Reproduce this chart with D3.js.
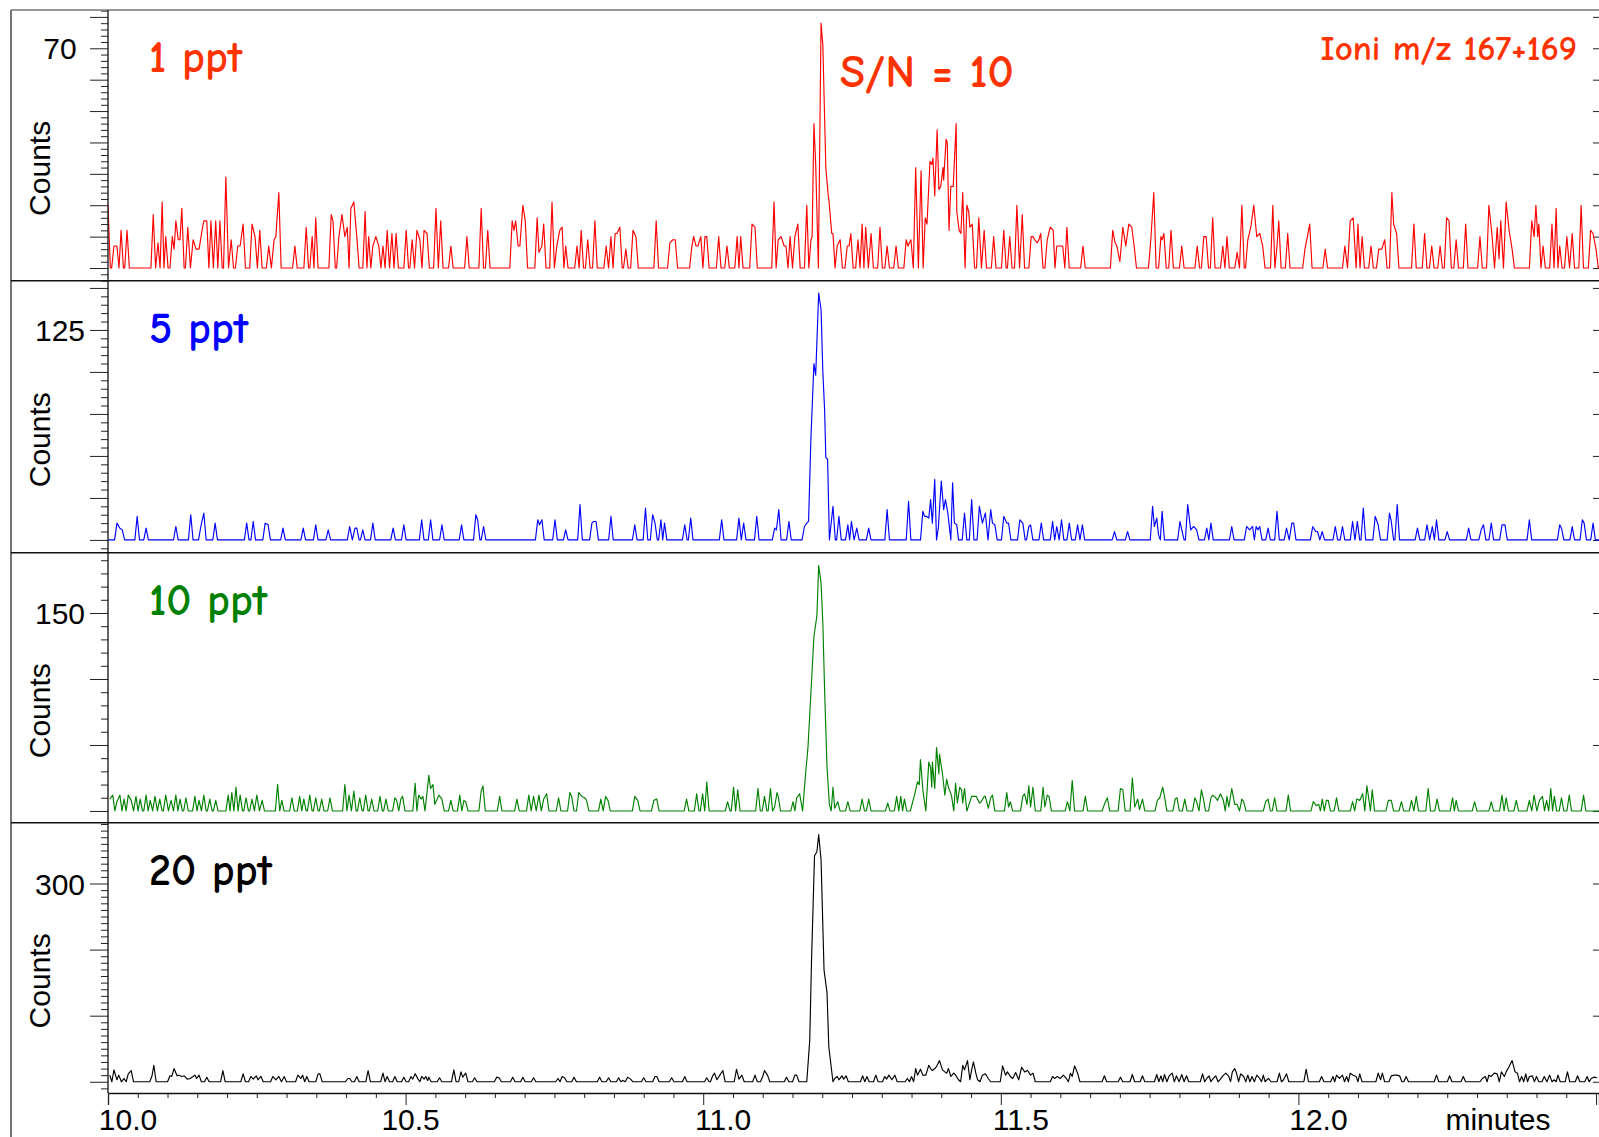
<!DOCTYPE html>
<html lang="en">
<head>
<meta charset="utf-8">
<title>Ioni m/z 167+169</title>
<script src="https://cdn.jsdelivr.net/npm/d3@7"></script>
<style>
html, body {
  margin: 0;
  padding: 0;
  background: #fff;
}
svg {
  display: block;
  font-family: "Liberation Sans", Arial, sans-serif;
}
.trace {
  fill: none;
  stroke-width: 1.15;
  stroke-linejoin: round;
}
.hand {
  font-family: "Comic Sans MS", "Comic Neue", Lato, sans-serif;
  font-weight: 600;
}
.tick line {
  stroke: #222;
}
</style>
</head>
<body>
<svg id="chart" width="1599" height="1137"></svg>
<script>

// retention time (minutes)
var timeRange = [10, 12.505];
var timeTicks = [10.0, 10.5, 11.0, 11.5, 12.0, 12.5];
var timeLabels = ["10.0", "10.5", "11.0", "11.5", "12.0"];
// one scan is about 0.0039 min; scans that are not listed read 0 counts
var scan = 0.0039;

var panelNames = ["1 ppt", "5 ppt", "10 ppt", "20 ppt"];
var countRange = [[-4.04, 82.2], [-7.6, 154.3], [-8.9, 195.7], [-17, 392]];
var majorStep = [10, 25, 50, 100];
var minorStep = [2, 5, 10, 10];
var labelledTick = [70, 125, 150, 300];

// [minutes, counts]
var ppt1 = [[10.000,20],[10.010,7],[10.015,7],[10.022,12],[10.032,12],[10.076,17],[10.084,8],[10.091,21],[10.097,10],[10.108,10],[10.111,6],[10.114,15],[10.118,9],[10.121,9],[10.124,19],[10.134,13],[10.143,9],[10.148,6],[10.153,6],[10.158,12],[10.161,15],[10.166,15],[10.173,15],[10.181,15],[10.188,15],[10.198,29],[10.207,9],[10.218,7],[10.222,7],[10.227,14],[10.242,14],[10.247,10],[10.255,12],[10.270,7],[10.279,9],[10.282,10],[10.287,24],[10.314,7],[10.333,13],[10.343,10],[10.349,16],[10.375,17],[10.378,15],[10.388,10],[10.393,17],[10.398,10],[10.402,13],[10.408,19],[10.413,21],[10.418,10],[10.432,18],[10.438,10],[10.445,7],[10.450,10],[10.455,7],[10.462,7],[10.469,12],[10.477,11],[10.484,11],[10.501,12],[10.511,9],[10.519,12],[10.524,9],[10.531,12],[10.536,11],[10.551,19],[10.559,15],[10.576,7],[10.603,10],[10.627,19],[10.638,12],[10.679,15],[10.682,12],[10.685,15],[10.689,7],[10.692,7],[10.697,20],[10.701,15],[10.721,16],[10.724,5],[10.729,7],[10.732,14],[10.746,21],[10.754,7],[10.759,12],[10.763,13],[10.769,7],[10.788,7],[10.795,12],[10.806,9],[10.818,15],[10.837,7],[10.845,10],[10.852,11],[10.855,11],[10.860,13],[10.870,6],[10.882,12],[10.887,10],[10.921,15],[10.944,8],[10.949,9],[10.953,9],[10.981,7],[10.984,10],[10.988,7],[10.991,7],[10.996,10],[11.003,10],[11.006,10],[11.026,10],[11.040,7],[11.057,10],[11.063,10],[11.082,14],[11.087,13],[11.119,21],[11.126,9],[11.131,10],[11.136,7],[11.139,7],[11.146,10],[11.154,10],[11.159,14],[11.174,20],[11.181,9],[11.183,10],[11.186,46],[11.189,33],[11.198,78],[11.201,71],[11.206,32],[11.210,23],[11.211,22],[11.216,11],[11.218,11],[11.225,7],[11.230,9],[11.242,7],[11.245,7],[11.248,11],[11.260,9],[11.267,14],[11.273,13],[11.282,11],[11.297,13],[11.309,7],[11.324,7],[11.341,9],[11.344,7],[11.349,9],[11.357,32],[11.366,31],[11.373,16],[11.376,14],[11.381,34],[11.384,33],[11.386,35],[11.389,23],[11.393,44],[11.396,25],[11.399,26],[11.403,32],[11.404,28],[11.408,41],[11.410,40],[11.413,12],[11.416,26],[11.420,26],[11.425,46],[11.426,18],[11.430,12],[11.433,11],[11.436,24],[11.440,0],[11.443,20],[11.446,18],[11.448,13],[11.452,14],[11.463,16],[11.472,12],[11.488,10],[11.505,12],[11.515,10],[11.527,20],[11.536,17],[11.551,10],[11.554,10],[11.557,9],[11.561,8],[11.564,9],[11.567,11],[11.578,9],[11.583,13],[11.588,12],[11.594,7],[11.599,7],[11.604,7],[11.611,13],[11.638,7],[11.688,12],[11.692,8],[11.695,7],[11.700,2],[11.705,13],[11.710,7],[11.715,14],[11.720,13],[11.724,7],[11.752,9],[11.757,24],[11.769,10],[11.771,9],[11.774,11],[11.786,12],[11.804,7],[11.830,7],[11.841,10],[11.845,10],[11.856,16],[11.873,7],[11.880,10],[11.897,5],[11.905,20],[11.915,9],[11.920,13],[11.925,20],[11.930,10],[11.935,11],[11.940,7],[11.957,20],[11.964,7],[11.967,15],[11.982,11],[12.011,6],[12.014,9],[12.019,14],[12.045,6],[12.078,7],[12.087,15],[12.092,16],[12.097,0],[12.100,14],[12.107,10],[12.122,7],[12.135,6],[12.140,6],[12.145,9],[12.157,24],[12.160,14],[12.165,11],[12.194,14],[12.212,11],[12.224,7],[12.238,7],[12.249,16],[12.253,15],[12.265,9],[12.281,14],[12.305,10],[12.320,20],[12.325,11],[12.334,13],[12.337,3],[12.340,15],[12.349,21],[12.354,12],[12.359,6],[12.392,15],[12.396,10],[12.399,20],[12.402,10],[12.404,14],[12.411,7],[12.426,14],[12.433,19],[12.439,7],[12.451,10],[12.460,11],[12.475,20],[12.491,12],[12.495,11],[12.500,6]];

var ppt5 = [[10.015,10],[10.020,7],[10.024,6],[10.049,14],[10.064,7],[10.114,8],[10.139,15],[10.156,8],[10.161,16],[10.180,10],[10.233,10],[10.244,11],[10.264,10],[10.269,9],[10.294,7],[10.328,7],[10.349,9],[10.370,6],[10.406,8],[10.415,7],[10.418,7],[10.428,6],[10.445,10],[10.479,7],[10.497,9],[10.527,12],[10.542,12],[10.561,9],[10.594,9],[10.618,15],[10.621,12],[10.631,8],[10.722,12],[10.725,9],[10.729,12],[10.751,12],[10.769,6],[10.793,21],[10.813,10],[10.816,11],[10.820,11],[10.845,14],[10.885,9],[10.903,19],[10.915,15],[10.919,10],[10.929,12],[10.935,10],[10.969,9],[10.979,13],[11.031,12],[11.060,13],[11.068,10],[11.090,14],[11.120,7],[11.123,6],[11.127,18],[11.144,11],[11.170,8],[11.174,10],[11.177,11],[11.181,61],[11.186,105],[11.189,98],[11.194,147],[11.198,137],[11.201,100],[11.204,77],[11.206,49],[11.209,48],[11.212,0],[11.218,20],[11.228,14],[11.243,9],[11.249,11],[11.258,7],[11.278,7],[11.309,18],[11.345,23],[11.369,17],[11.372,14],[11.375,14],[11.379,13],[11.382,24],[11.385,10],[11.389,36],[11.395,7],[11.400,35],[11.404,18],[11.407,24],[11.411,16],[11.416,0],[11.419,34],[11.422,10],[11.426,9],[11.429,0],[11.439,16],[11.451,24],[11.464,20],[11.469,10],[11.474,16],[11.483,18],[11.486,10],[11.490,9],[11.505,14],[11.510,10],[11.513,10],[11.532,12],[11.537,10],[11.547,8],[11.550,9],[11.568,10],[11.587,11],[11.594,8],[11.602,12],[11.615,10],[11.629,9],[11.637,9],[11.691,5],[11.713,5],[11.755,20],[11.758,8],[11.762,13],[11.765,3],[11.771,17],[11.801,11],[11.804,6],[11.814,21],[11.819,6],[11.824,8],[11.829,6],[11.846,7],[11.853,10],[11.888,8],[11.913,8],[11.918,6],[11.923,8],[11.929,8],[11.932,6],[11.935,8],[11.949,7],[11.964,17],[11.980,7],[11.989,10],[11.992,10],[12.024,8],[12.029,5],[12.032,5],[12.040,5],[12.062,8],[12.074,8],[12.091,11],[12.099,11],[12.109,19],[12.129,14],[12.134,9],[12.153,16],[12.156,11],[12.166,21],[12.200,7],[12.216,9],[12.225,8],[12.232,12],[12.250,5],[12.286,7],[12.307,6],[12.311,9],[12.324,10],[12.342,9],[12.347,9],[12.388,12],[12.439,9],[12.442,7],[12.460,8],[12.477,12],[12.480,10],[12.495,10]];

var ppt10 = [[10.003,9],[10.008,12],[10.015,7],[10.020,12],[10.027,9],[10.034,12],[10.039,8],[10.047,11],[10.054,9],[10.064,12],[10.071,8],[10.079,11],[10.087,9],[10.097,12],[10.106,8],[10.114,12],[10.121,9],[10.131,10],[10.146,11],[10.153,8],[10.161,12],[10.171,9],[10.181,8],[10.202,12],[10.208,14],[10.215,18],[10.222,12],[10.232,10],[10.242,9],[10.250,12],[10.259,8],[10.285,20],[10.292,8],[10.309,10],[10.322,11],[10.329,9],[10.339,12],[10.349,10],[10.359,9],[10.373,10],[10.398,20],[10.405,12],[10.413,15],[10.423,10],[10.433,12],[10.443,9],[10.457,11],[10.467,9],[10.482,10],[10.485,8],[10.492,9],[10.495,11],[10.516,21],[10.522,12],[10.526,9],[10.529,11],[10.536,14],[10.539,27],[10.542,17],[10.546,20],[10.549,5],[10.552,8],[10.556,12],[10.561,9],[10.576,8],[10.591,12],[10.598,8],[10.601,7],[10.627,15],[10.630,19],[10.658,11],[10.687,9],[10.707,12],[10.715,11],[10.724,12],[10.732,9],[10.737,13],[10.757,10],[10.776,14],[10.779,11],[10.791,14],[10.796,11],[10.801,10],[10.804,8],[10.828,9],[10.836,11],[10.840,8],[10.885,11],[10.890,8],[10.917,8],[10.922,9],[10.972,9],[10.989,13],[10.999,13],[11.006,22],[11.041,7],[11.051,18],[11.058,16],[11.092,17],[11.103,11],[11.113,17],[11.120,3],[11.124,14],[11.126,11],[11.151,7],[11.157,10],[11.162,13],[11.167,0],[11.172,28],[11.176,48],[11.181,90],[11.186,132],[11.191,148],[11.194,186],[11.198,173],[11.201,142],[11.204,91],[11.208,33],[11.212,5],[11.218,18],[11.221,2],[11.226,7],[11.243,7],[11.267,9],[11.278,9],[11.310,6],[11.325,11],[11.332,11],[11.338,9],[11.352,7],[11.355,12],[11.360,22],[11.363,20],[11.365,39],[11.369,16],[11.374,0],[11.379,37],[11.382,33],[11.384,18],[11.385,37],[11.389,17],[11.392,48],[11.396,28],[11.397,43],[11.402,28],[11.406,12],[11.409,24],[11.412,18],[11.417,12],[11.421,0],[11.424,21],[11.427,6],[11.431,18],[11.434,16],[11.436,6],[11.439,17],[11.443,0],[11.451,11],[11.456,11],[11.459,11],[11.464,6],[11.467,7],[11.472,11],[11.474,11],[11.479,2],[11.483,10],[11.486,12],[11.510,14],[11.513,3],[11.516,7],[11.537,11],[11.540,13],[11.544,5],[11.547,19],[11.550,3],[11.554,18],[11.571,18],[11.574,3],[11.578,12],[11.581,11],[11.612,7],[11.620,23],[11.642,11],[11.674,5],[11.679,10],[11.701,17],[11.705,16],[11.721,25],[11.725,3],[11.730,9],[11.733,1],[11.738,9],[11.763,8],[11.767,10],[11.772,18],[11.775,11],[11.793,9],[11.796,10],[11.809,9],[11.826,10],[11.829,7],[11.837,16],[11.840,10],[11.853,10],[11.856,12],[11.861,10],[11.864,8],[11.869,13],[11.874,8],[11.880,11],[11.883,3],[11.888,17],[11.893,5],[11.897,5],[11.905,9],[11.908,7],[11.945,7],[11.949,9],[11.960,10],[11.983,12],[12.025,7],[12.030,4],[12.034,5],[12.040,9],[12.047,8],[12.050,8],[12.064,10],[12.091,7],[12.098,9],[12.103,8],[12.108,13],[12.115,19],[12.118,10],[12.124,16],[12.151,8],[12.156,8],[12.173,7],[12.190,8],[12.198,11],[12.218,17],[12.233,9],[12.259,10],[12.265,8],[12.296,7],[12.324,7],[12.342,12],[12.349,10],[12.366,8],[12.388,8],[12.396,12],[12.405,8],[12.410,11],[12.417,8],[12.424,17],[12.430,11],[12.442,10],[12.455,12],[12.479,12]];

var ppt20 = [[10.003,10],[10.010,18],[10.015,3],[10.018,10],[10.027,5],[10.034,12],[10.039,17],[10.074,9],[10.077,25],[10.104,9],[10.107,8],[10.111,20],[10.116,9],[10.119,10],[10.124,8],[10.128,9],[10.133,4],[10.138,5],[10.143,8],[10.146,10],[10.149,5],[10.153,10],[10.166,7],[10.193,17],[10.227,12],[10.240,8],[10.244,4],[10.249,9],[10.252,3],[10.257,8],[10.277,8],[10.282,3],[10.287,8],[10.296,8],[10.319,10],[10.324,5],[10.327,10],[10.334,8],[10.353,12],[10.356,12],[10.403,5],[10.406,5],[10.418,8],[10.437,17],[10.462,13],[10.469,8],[10.482,8],[10.497,7],[10.509,8],[10.512,4],[10.516,12],[10.521,4],[10.527,8],[10.531,4],[10.534,8],[10.537,2],[10.539,7],[10.557,6],[10.581,18],[10.593,15],[10.596,7],[10.601,13],[10.616,6],[10.653,7],[10.657,6],[10.680,7],[10.697,7],[10.715,6],[10.756,5],[10.763,8],[10.767,6],[10.783,7],[10.826,7],[10.841,6],[10.858,6],[10.865,2],[10.873,7],[10.878,4],[10.900,6],[10.919,8],[10.922,8],[10.947,6],[10.969,8],[11.006,6],[11.016,9],[11.019,13],[11.023,3],[11.028,10],[11.033,17],[11.056,19],[11.060,4],[11.065,10],[11.087,10],[11.100,8],[11.103,17],[11.108,10],[11.140,7],[11.154,10],[11.157,10],[11.174,0],[11.179,63],[11.182,184],[11.187,342],[11.191,348],[11.194,374],[11.198,336],[11.203,169],[11.208,135],[11.211,53],[11.218,0],[11.221,5],[11.225,8],[11.228,3],[11.233,9],[11.236,4],[11.240,9],[11.268,9],[11.275,8],[11.290,10],[11.305,8],[11.308,4],[11.312,10],[11.317,3],[11.322,10],[11.343,5],[11.350,8],[11.357,20],[11.360,10],[11.365,19],[11.369,10],[11.374,10],[11.379,25],[11.382,20],[11.385,17],[11.389,20],[11.392,23],[11.397,32],[11.402,18],[11.406,15],[11.409,13],[11.412,20],[11.416,8],[11.421,13],[11.424,10],[11.429,3],[11.436,25],[11.439,18],[11.444,32],[11.448,3],[11.451,18],[11.454,30],[11.458,13],[11.461,3],[11.469,10],[11.474,12],[11.479,5],[11.503,24],[11.508,10],[11.511,15],[11.516,8],[11.520,5],[11.525,14],[11.530,3],[11.535,22],[11.540,15],[11.545,17],[11.550,10],[11.554,13],[11.587,8],[11.590,5],[11.595,8],[11.600,5],[11.605,10],[11.610,5],[11.617,13],[11.620,8],[11.624,24],[11.629,13],[11.674,9],[11.701,7],[11.721,11],[11.738,9],[11.762,11],[11.769,9],[11.775,11],[11.783,9],[11.788,13],[11.795,9],[11.804,11],[11.812,9],[11.839,12],[11.846,5],[11.850,9],[11.856,4],[11.861,9],[11.869,4],[11.873,9],[11.878,13],[11.883,8],[11.889,15],[11.893,20],[11.896,13],[11.903,12],[11.908,8],[11.915,10],[11.922,8],[11.930,10],[11.935,5],[11.941,10],[11.947,3],[11.950,5],[11.968,13],[11.975,3],[11.980,12],[12.013,19],[12.039,8],[12.058,8],[12.064,10],[12.069,5],[12.074,10],[12.081,8],[12.087,13],[12.092,10],[12.097,8],[12.103,12],[12.134,13],[12.138,3],[12.141,13],[12.156,9],[12.161,10],[12.165,10],[12.170,9],[12.181,8],[12.232,10],[12.254,9],[12.277,8],[12.309,5],[12.314,8],[12.320,10],[12.324,8],[12.329,13],[12.334,12],[12.341,15],[12.346,8],[12.349,15],[12.354,23],[12.359,32],[12.364,15],[12.368,13],[12.375,8],[12.382,12],[12.388,8],[12.393,9],[12.400,8],[12.413,8],[12.422,10],[12.430,3],[12.436,10],[12.452,15],[12.469,9],[12.485,8],[12.492,5],[12.497,7],[12.502,6]];

var traces = [ppt1, ppt5, ppt10, ppt20];
var traceColors = ["#ff0000", "#0000ff", "#008000", "#000000"];
var nameColors = ["#ff3300", "#0000ff", "#008000", "#000000"];

var svg = d3.select("#chart");
var left = 108, right = 1599;
var panelTop = [10, 280.7, 552.7, 822.7];
var panelBottom = [280.7, 552.7, 822.7, 1093];

var x = d3.scaleLinear().domain(timeRange).range([left, right]);

// the trace drops back to the baseline one scan after / before a listed scan
function withBaseline(pts) {
  var out = [];
  var first = pts[0], last = pts[pts.length - 1];
  if (first[0] - timeRange[0] > scan) {
    out.push([timeRange[0], 0]);
    if (first[1]) out.push([first[0] - scan, 0]);
  }
  pts.forEach(function(p, i) {
    if (i > 0) {
      var q = pts[i - 1], gap = p[0] - q[0];
      if (gap > 1.5 * scan) {
        if (gap < 2.5 * scan) {
          if (q[1] && p[1]) out.push([(q[0] + p[0]) / 2, 0]);
        } else {
          if (q[1]) out.push([q[0] + scan, 0]);
          if (p[1]) out.push([p[0] - scan, 0]);
        }
      }
    }
    out.push(p);
  });
  if (timeRange[1] - last[0] > scan) {
    if (last[1]) out.push([last[0] + scan, 0]);
    out.push([timeRange[1], 0]);
  }
  return out;
}

var defs = svg.append("defs");

panelNames.forEach(function(name, i) {
  var top = panelTop[i], bottom = panelBottom[i];
  var lo = countRange[i][0], hi = countRange[i][1];
  var y = d3.scaleLinear().domain(countRange[i]).range([bottom, top]);

  defs.append("clipPath").attr("id", "clip" + i)
    .append("rect")
      .attr("x", left).attr("y", top)
      .attr("width", right - left).attr("height", bottom - top);

  var majors = d3.range(0, hi, majorStep[i]);
  var minors = d3.range(Math.ceil(lo / minorStep[i]) * minorStep[i], hi, minorStep[i])
    .filter(function(v) { return v % majorStep[i] !== 0; });

  var g = svg.append("g");

  g.append("g").attr("transform", "translate(" + left + ",0)")
    .call(d3.axisLeft(y).tickValues(minors).tickSize(7).tickFormat(""))
    .call(function(a) { a.select(".domain").remove(); });
  g.append("g").attr("transform", "translate(" + left + ",0)")
    .call(d3.axisLeft(y).tickValues(majors).tickSize(18).tickFormat(""))
    .call(function(a) { a.select(".domain").remove(); });
  // short ticks on the right edge
  g.append("g").attr("transform", "translate(" + right + ",0)")
    .call(d3.axisLeft(y).tickValues(majors).tickSize(6).tickFormat(""))
    .call(function(a) { a.select(".domain").remove(); });

  g.append("text")
    .attr("x", 60).attr("y", y(labelledTick[i]) + 11)
    .attr("text-anchor", "middle")
    .style("font-size", "30px")
    .text(labelledTick[i]);

  g.append("text")
    .attr("transform", "translate(50," + ((top + bottom) / 2 + 23) + ") rotate(-90)")
    .attr("text-anchor", "middle")
    .style("font-size", "30px")
    .text("Counts");

  var line = d3.line()
    .x(function(d) { return x(d[0]); })
    .y(function(d) { return y(d[1]); });

  g.append("path")
    .datum(withBaseline(traces[i]))
    .attr("class", "trace")
    .attr("clip-path", "url(#clip" + i + ")")
    .attr("stroke", traceColors[i])
    .attr("d", line);

  g.append("text")
    .attr("class", "hand")
    .attr("x", 149).attr("y", top + 62)
    .attr("fill", nameColors[i])
    .style("font-size", "44px")
    .text(name);
});

// frame
svg.append("line").attr("x1", 11).attr("x2", 11).attr("y1", 10).attr("y2", 1137)
  .attr("stroke", "#444").attr("stroke-width", 1.5);
svg.append("line").attr("x1", 11).attr("x2", right).attr("y1", 10).attr("y2", 10)
  .attr("stroke", "#777").attr("stroke-width", 1.5);
[280.7, 552.7, 822.7].forEach(function(yy) {
  svg.append("line").attr("x1", 11).attr("x2", right).attr("y1", yy).attr("y2", yy)
    .attr("stroke", "#111").attr("stroke-width", 1.6);
});
svg.append("line").attr("x1", left).attr("x2", left).attr("y1", 10).attr("y2", 1093)
  .attr("stroke", "#111").attr("stroke-width", 1.3);

// time axis
var minorTimes = d3.range(0, 51).map(function(k) { return 10 + k * 0.05; })
  .filter(function(v, k) { return k % 10 !== 0; });
svg.append("g").attr("transform", "translate(0,1093)")
  .call(d3.axisBottom(x).tickValues(minorTimes).tickSize(5).tickFormat(""))
  .call(function(a) { a.select(".domain").remove(); });
svg.append("g").attr("transform", "translate(0,1093)")
  .call(d3.axisBottom(x).tickValues(timeTicks).tickSize(12).tickFormat(""))
  .call(function(a) { a.select(".domain").attr("stroke", "#111").attr("stroke-width", 1.3); });

// labels sit a little to the right of their tick (10.5 less so)
svg.selectAll(".timeLabel").data(timeLabels).enter().append("text")
  .attr("class", "timeLabel")
  .attr("x", function(d) { return x(+d) + (d === "10.5" ? 5 : 20); })
  .attr("y", 1130)
  .attr("text-anchor", "middle")
  .style("font-size", "30px")
  .text(function(d) { return d; });

svg.append("text")
  .attr("x", 1498).attr("y", 1130)
  .attr("text-anchor", "middle")
  .style("font-size", "30px")
  .text("minutes");

// annotations
svg.append("text").attr("class", "hand")
  .attr("x", 840).attr("y", 87)
  .attr("fill", "#ff3300")
  .style("font-size", "46px")
  .text("S/N = 10");

svg.append("text").attr("class", "hand")
  .attr("x", 1577).attr("y", 60)
  .attr("text-anchor", "end")
  .attr("fill", "#ff3300")
  .style("font-size", "35px")
  .text("Ioni m/z 167+169");

</script>
</body>
</html>
